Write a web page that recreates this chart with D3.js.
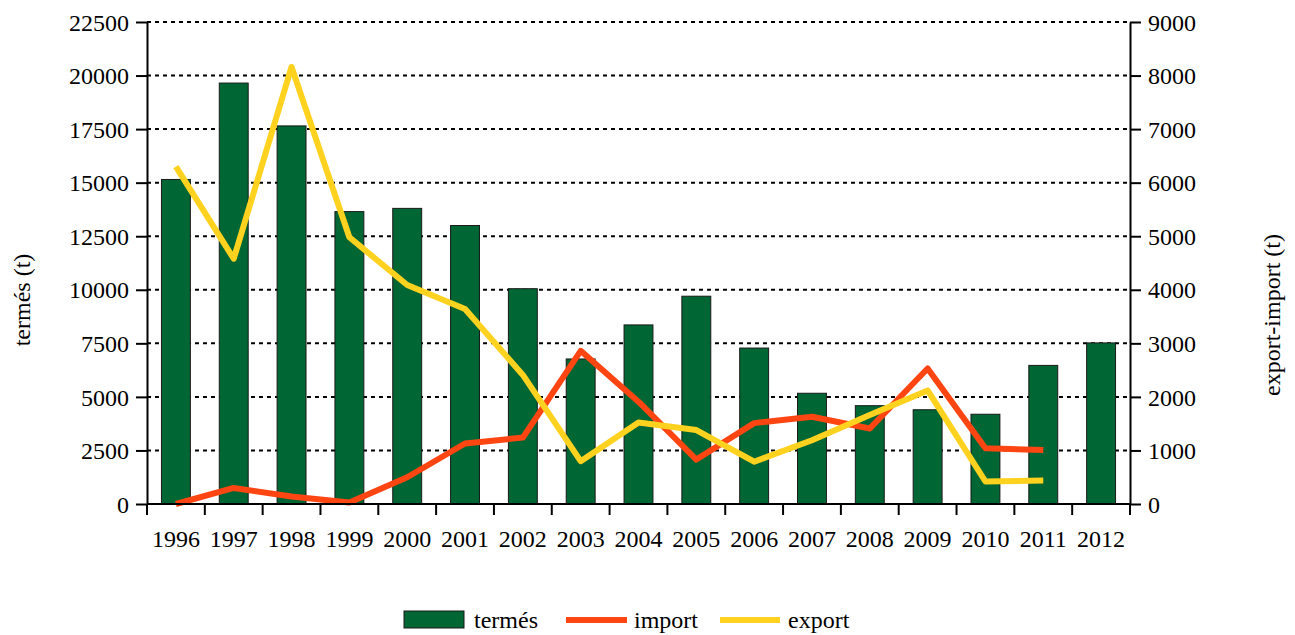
<!DOCTYPE html>
<title>termés, import, export</title>
<body>
<script src="https://cdn.jsdelivr.net/npm/d3@7"></script>
<style>
  html, body {
    margin: 0;
    background: #fff;
  }
  text {
    font-family: "Times New Roman", "Liberation Serif", Times, serif;
    fill: #000;
  }
</style>
<script>
  // values (tonnes)
  var years = ["1996", "1997", "1998", "1999", "2000", "2001", "2002", "2003", "2004",
               "2005", "2006", "2007", "2008", "2009", "2010", "2011", "2012"];
  var termes = [15150, 19650, 17650, 13650, 13800, 13000, 10050, 6770, 8360,
                9700, 7280, 5170, 4590, 4400, 4190, 6470, 7520];
  var imports = [0, 300, 140, 30, 500, 1130, 1240, 2860, 1910,
                 830, 1510, 1630, 1410, 2530, 1040, 1010, null];
  var exports = [6300, 4580, 8160, 4980, 4090, 3640, 2410, 800, 1520,
                 1380, 790, 1190, 1660, 2120, 420, 440, null];
  var leftTicks = d3.range(0, 22501, 2500);
  var rightTicks = d3.range(0, 9001, 1000);

  // plot box (window.top is reserved, so the names are prefixed)
  var W = 1295, H = 635,
    pLeft = 147, pRight = 1130, pTop = 22, pBottom = 504,
    fs = "24px",
    green = "#006633", red = "#ff4512", yellow = "#ffd21f";

  var svg = d3.select("body").append("svg")
    .attr("width", W)
    .attr("height", H);

  var x = d3.scaleBand().domain(years).range([pLeft, pRight]);
  var yL = d3.scaleLinear().domain([0, 22500]).range([pBottom, pTop]);
  var yR = d3.scaleLinear().domain([0, 9000]).range([pBottom, pTop]);

  // dotted grid
  svg.append("g").selectAll("line")
    .data(leftTicks.slice(1))
    .enter().append("line")
    .attr("x1", pLeft).attr("x2", pRight)
    .attr("y1", function(d) { return yL(d); })
    .attr("y2", function(d) { return yL(d); })
    .attr("stroke", "#000")
    .attr("stroke-width", 2)
    .attr("stroke-dasharray", "4,4");

  // bars
  var bw = x.bandwidth() * 0.5;
  svg.append("g").selectAll("rect")
    .data(termes)
    .enter().append("rect")
    .attr("x", function(d, i) { return x(years[i]) + (x.bandwidth() - bw) / 2; })
    .attr("width", bw)
    .attr("y", function(d) { return yL(d); })
    .attr("height", function(d) { return pBottom - yL(d); })
    .attr("fill", green)
    .attr("stroke", "#1a1a1a")
    .attr("stroke-width", 1);

  // lines
  var line = d3.line()
    .defined(function(d) { return d != null; })
    .x(function(d, i) { return x(years[i]) + x.bandwidth() / 2; })
    .y(function(d) { return yR(d); });

  [[imports, red], [exports, yellow]].forEach(function(s) {
    svg.append("path")
      .datum(s[0])
      .attr("d", line)
      .attr("fill", "none")
      .attr("stroke", s[1])
      .attr("stroke-width", 6)
      .attr("stroke-linejoin", "round");
  });

  // axes
  var fmt = d3.format("d");
  var gl = svg.append("g")
    .attr("transform", "translate(" + pLeft + ",0)")
    .call(d3.axisLeft(yL).tickValues(leftTicks).tickFormat(fmt)
      .tickSize(11).tickPadding(7).tickSizeOuter(0));
  var gr = svg.append("g")
    .attr("transform", "translate(" + pRight + ",0)")
    .call(d3.axisRight(yR).tickValues(rightTicks).tickFormat(fmt)
      .tickSize(11).tickPadding(7).tickSizeOuter(0));

  // x axis: ticks sit on category boundaries, labels in the middle
  var bounds = years.map(function(d) { return x(d); }).concat([pRight]);
  var gx = svg.append("g");
  gx.append("line")
    .attr("x1", pLeft).attr("x2", pRight)
    .attr("y1", pBottom).attr("y2", pBottom);
  gx.selectAll(".tk")
    .data(bounds)
    .enter().append("line")
    .attr("class", "tk")
    .attr("x1", function(d) { return d; })
    .attr("x2", function(d) { return d; })
    .attr("y1", pBottom).attr("y2", pBottom + 11);
  gx.selectAll("line").attr("stroke", "#000").attr("stroke-width", 2);
  gx.selectAll("text")
    .data(years)
    .enter().append("text")
    .attr("x", function(d) { return x(d) + x.bandwidth() / 2; })
    .attr("y", 547)
    .attr("text-anchor", "middle")
    .text(function(d) { return d; });

  [gl, gr].forEach(function(g) {
    g.select(".domain").attr("stroke-width", 2);
    g.selectAll(".tick line").attr("stroke-width", 2);
    g.selectAll(".tick text").attr("dy", "0.34em");
  });
  svg.selectAll("text")
    .style("font-size", fs)
    .style("font-family", null)
    .attr("font-family", null)
    .attr("fill", "#000");

  // axis titles
  svg.append("text")
    .attr("transform", "translate(30,300) rotate(-90)")
    .attr("text-anchor", "middle")
    .style("font-size", fs)
    .text("termés (t)");
  svg.append("text")
    .attr("transform", "translate(1280,315) rotate(-90)")
    .attr("text-anchor", "middle")
    .style("font-size", fs)
    .text("export-import (t)");

  // legend
  var legend = svg.append("g");
  legend.append("rect")
    .attr("x", 404).attr("y", 611)
    .attr("width", 60).attr("height", 17)
    .attr("fill", green)
    .attr("stroke", "#1a1a1a");
  legend.append("line")
    .attr("x1", 566).attr("x2", 627).attr("y1", 620).attr("y2", 620)
    .attr("stroke", red).attr("stroke-width", 6);
  legend.append("line")
    .attr("x1", 720).attr("x2", 780).attr("y1", 620).attr("y2", 620)
    .attr("stroke", yellow).attr("stroke-width", 6);
  legend.selectAll("text")
    .data([["termés", 474], ["import", 634], ["export", 788]])
    .enter().append("text")
    .attr("x", function(d) { return d[1]; })
    .attr("y", 628)
    .style("font-size", fs)
    .text(function(d) { return d[0]; });
</script>
